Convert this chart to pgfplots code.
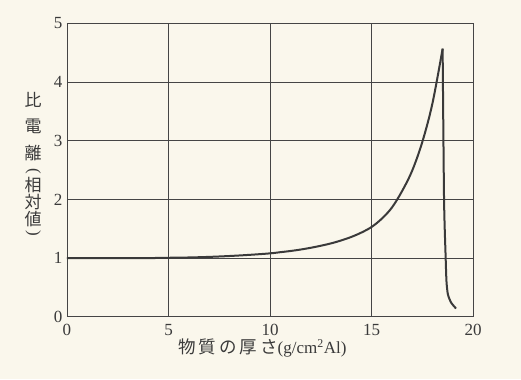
\documentclass[border=0pt]{standalone}
\usepackage{pgfplots}
\pgfplotsset{compat=1.18}
\usetikzlibrary{backgrounds}
\usepackage{fontspec}
\setmainfont{Liberation Serif}
\newfontfamily\jp{Noto Sans CJK JP}
\definecolor{paper}{HTML}{FAF7EC}
\definecolor{ink}{HTML}{3A3A3A}
\definecolor{gridc}{HTML}{454545}
\begin{document}
\begin{tikzpicture}[yl/.style={font=\jp\fontsize{17}{18}\selectfont, text=ink}]
\begin{axis}[
  scale only axis,
  width=406pt, height=293.2pt,
  xmin=0, xmax=20, ymin=0, ymax=5,
  xtick={0,5,10,15,20}, ytick={0,1,2,3,4,5},
  grid=major,
  grid style={draw=gridc, line width=0.8pt},
  axis line style={draw=gridc, line width=0.8pt},
  tick style={draw=none},
  /pgf/number format/assume math mode=true,
  tick label style={font=\fontsize{17}{20}\selectfont, text=ink},
  xticklabel style={yshift=-4pt},
  yticklabel style={xshift=-1pt},
  clip=false,
]
\coordinate (bgA) at (rel axis cs:-0.165,-0.2125);
\coordinate (bgB) at (rel axis cs:1.118,1.080);
\addplot[ink, line width=2pt, smooth, tension=0.55] coordinates {
 (0,1.0) (2,1.0) (4,1.0) (5,1.005) (6,1.01) (7,1.02) (8,1.035) (9,1.055)
 (10,1.08) (10.5,1.10) (11,1.12) (11.5,1.145) (12,1.175) (12.5,1.21)
 (13,1.25) (13.5,1.30) (14,1.36) (14.5,1.435) (15,1.53) (15.5,1.67)
 (16,1.86) (16.5,2.14) (17,2.49) (17.5,2.98) (18,3.64) (18.5,4.57)
};
\addplot[ink, line width=2pt, smooth, tension=0.4] coordinates {
 (18.5,4.57) (18.57,2.0) (18.65,1.0) (18.69,0.6) (18.76,0.38) (18.92,0.24) (19.16,0.14)
};
\node[font=\jp\fontsize{17.5}{20}\selectfont, text=ink] at (axis cs:9.63,-0.54) {物\,質\,の\,厚\,さ{\rmfamily\fontsize{17}{18}\selectfont(g/cm\textsuperscript{2}Al)}};
\node[yl] at (axis cs:-1.67,3.695) {比};
\node[yl] at (axis cs:-1.67,3.254) {電};
\node[yl] at (axis cs:-1.67,2.794) {離};
\node[font=\fontsize{17}{18}\selectfont, text=ink, rotate=-90, inner sep=0pt] at (axis cs:-1.67,2.48) {(};
\node[yl] at (axis cs:-1.67,2.25) {相};
\node[yl] at (axis cs:-1.67,1.96) {対};
\node[yl] at (axis cs:-1.67,1.67) {値};
\node[font=\fontsize{17}{18}\selectfont, text=ink, rotate=-90, inner sep=0pt] at (axis cs:-1.67,1.43) {)};
\end{axis}
\begin{pgfonlayer}{background}
\fill[paper] (bgA) rectangle (bgB);
\end{pgfonlayer}
\end{tikzpicture}
\end{document}
